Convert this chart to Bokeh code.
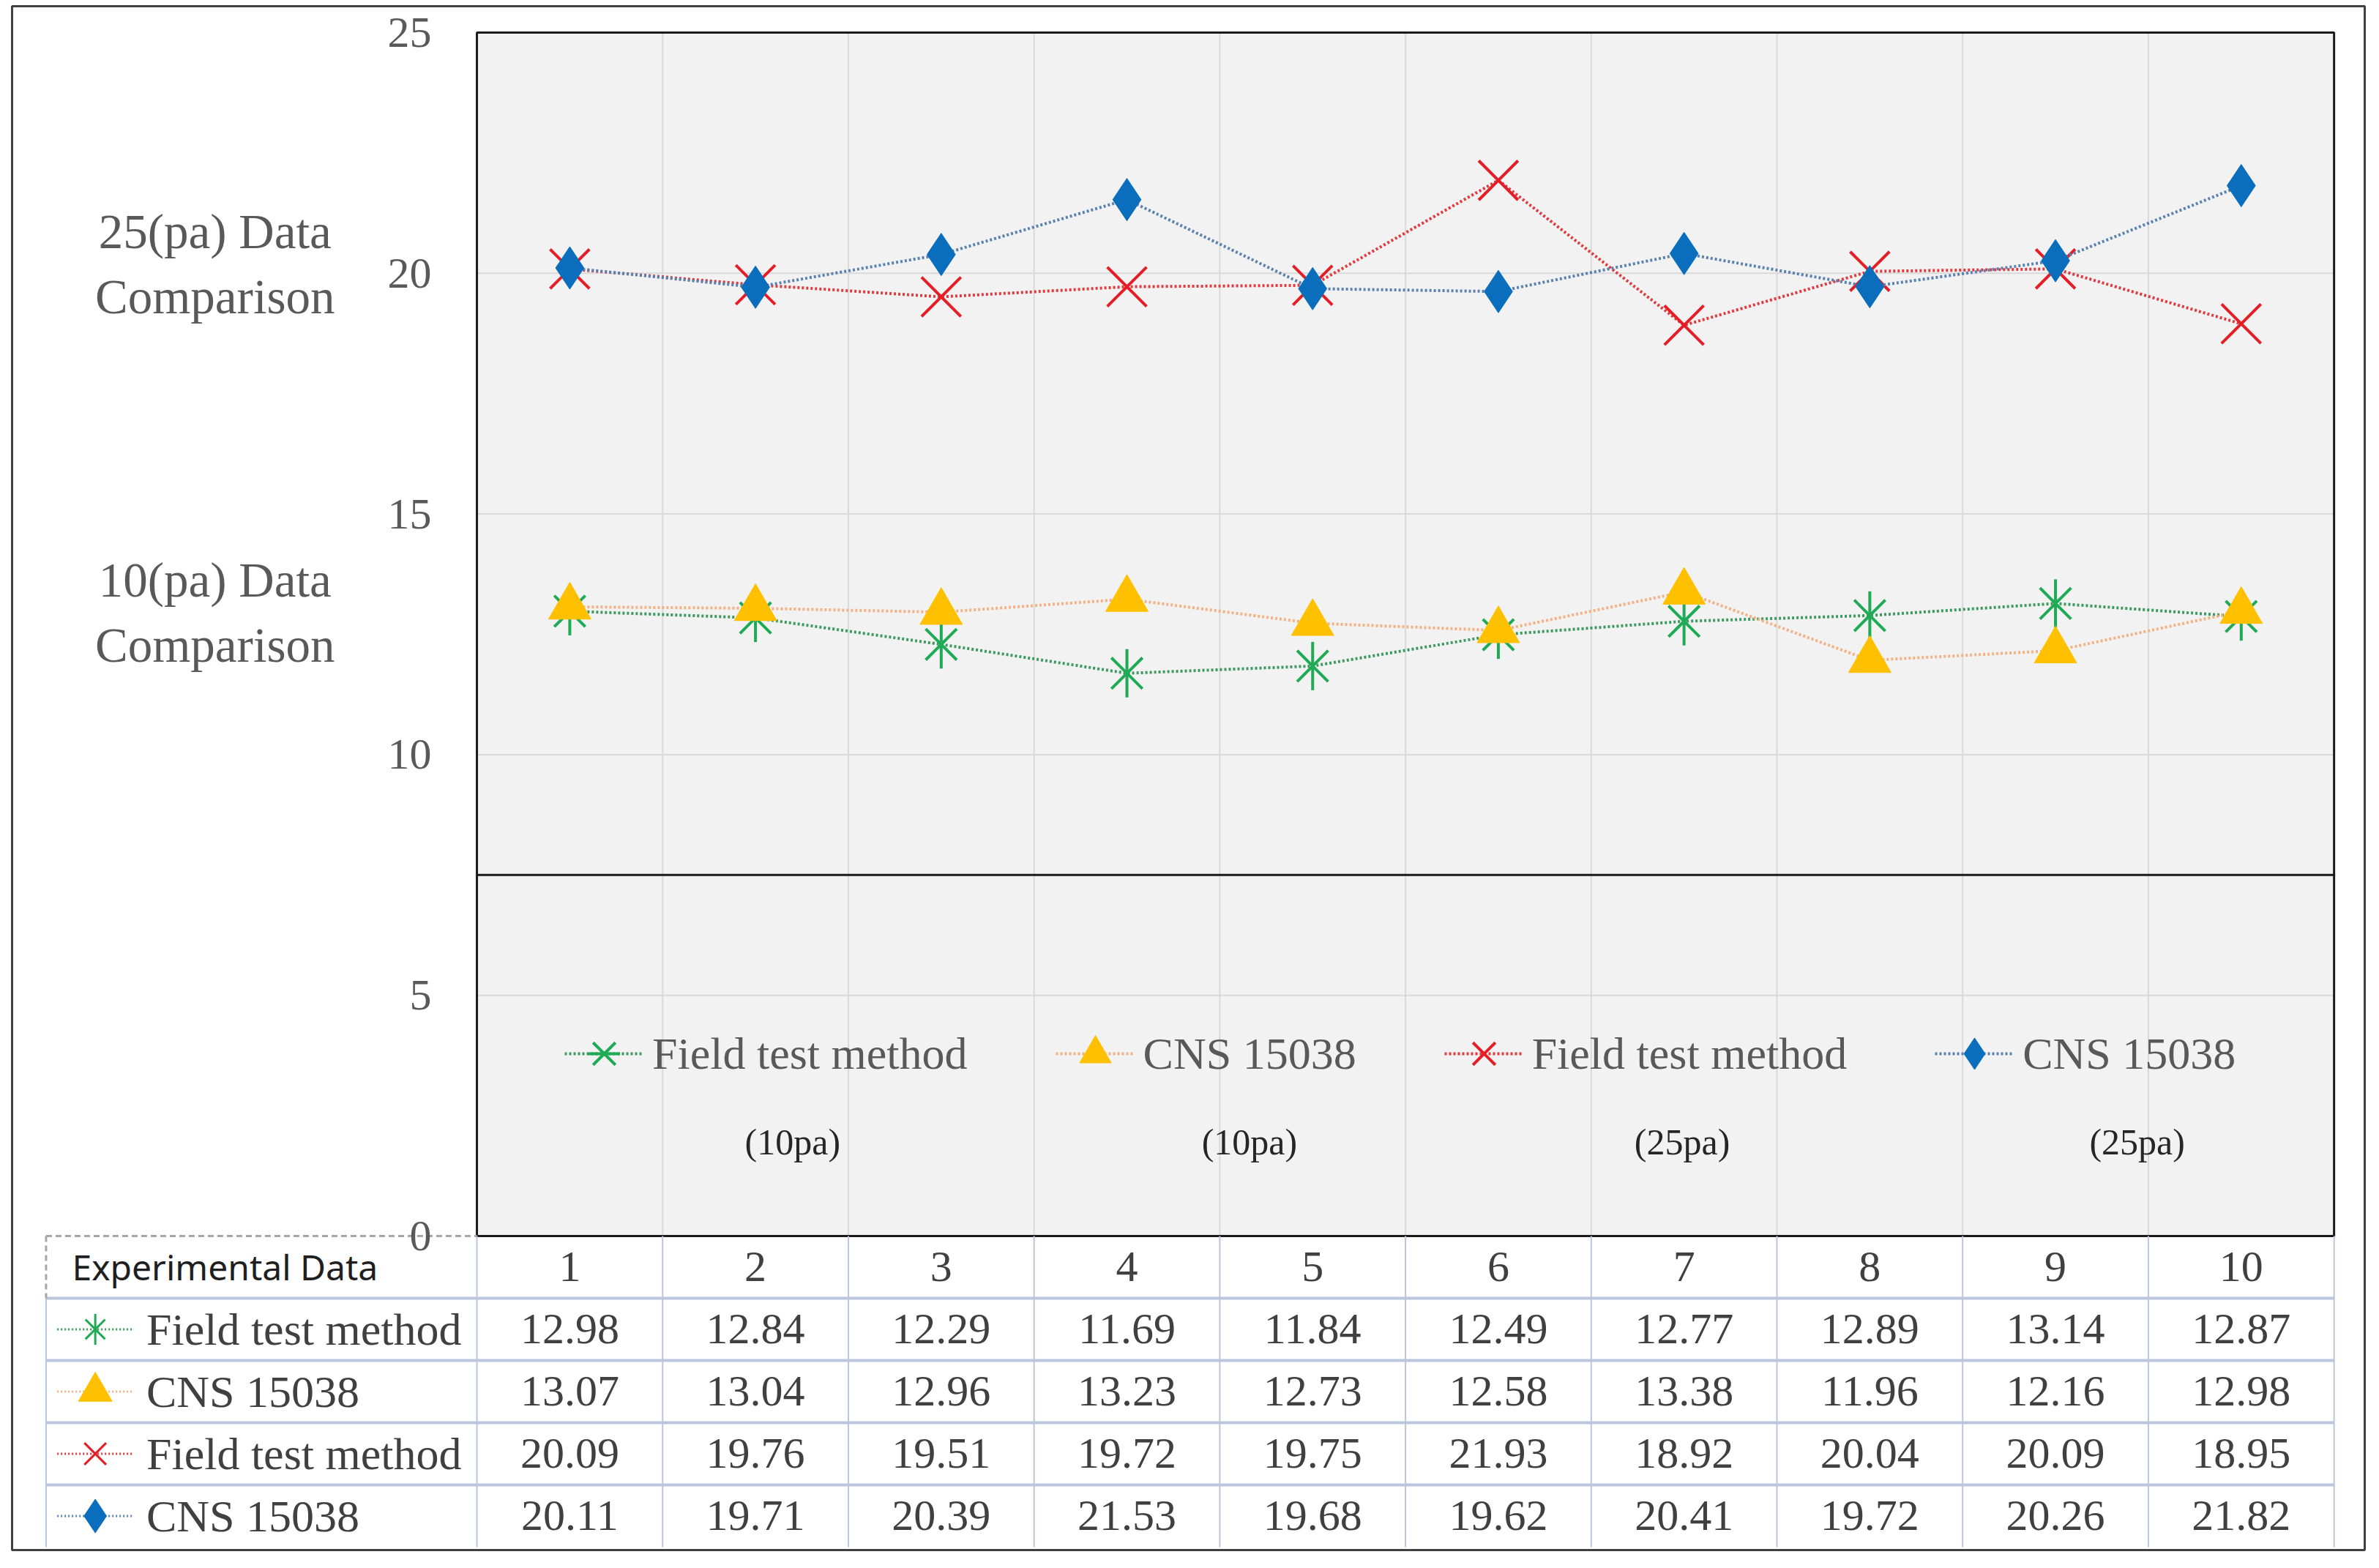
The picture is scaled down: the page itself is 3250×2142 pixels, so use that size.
import math
from bokeh.plotting import figure
from bokeh.models import Range1d, LinearAxis, FixedTicker, Legend, LegendItem
from bokeh.embed import file_html
from bokeh.resources import INLINE
from bokeh.core.properties import value

# ---------------- data ----------------
experiments = [1, 2, 3, 4, 5, 6, 7, 8, 9, 10]
field_10pa = [12.98, 12.84, 12.29, 11.69, 11.84, 12.49, 12.77, 12.89, 13.14, 12.87]
cns_10pa = [13.07, 13.04, 12.96, 13.23, 12.73, 12.58, 13.38, 11.96, 12.16, 12.98]
field_25pa = [20.09, 19.76, 19.51, 19.72, 19.75, 21.93, 18.92, 20.04, 20.09, 18.95]
cns_25pa = [20.11, 19.71, 20.39, 21.53, 19.68, 19.62, 20.41, 19.72, 20.26, 21.82]
series_names = ["Field test method", "CNS 15038", "Field test method", "CNS 15038"]
series_pressure = ["(10pa)", "(10pa)", "(25pa)", "(25pa)"]
y_ticks = [0, 5, 10, 15, 20, 25]
table_header = "Experimental Data"
side_labels = ["25(pa) Data\nComparison", "10(pa) Data\nComparison"]

# ---------------- styles / layout ----------------
SERIF = "Liberation Serif"
GREEN_LINE, GREEN = "#3C9A5F", "#1FAA55"
ORANGE_LINE, ORANGE = "#F4B183", "#FFC000"
RED_LINE, RED = "#E0393E", "#E41E26"
BLUE_LINE, BLUE = "#5A82B0", "#0A6EBD"
GRID = "#D9D9D9"
TABLE_LINE = "#B9C6DD"
TEXT_GRAY = "#595959"
TEXT_DARK = "#404040"

X_START, X_END = -2.003, 10.665
Y_START, Y_END = -6.524, 25.547
LEGEND_TOP = 7.5
SIDE_LABEL_X = -0.91
SIDE_LABEL_Y = [20.2, 12.95]
SUB_LABEL_X = [2.2, 4.66, 6.99, 9.44]
SUB_LABEL_Y = 1.95
TABLE_LEFT = -1.82
ROW_H = 1.2926
HEADER_TEXT_X = -1.68
ROW_LABEL_X = -1.28
KEY_X0, KEY_XC, KEY_X1 = -1.76, -1.555, -1.35

p = figure(width=3234, height=2122,
           x_range=Range1d(X_START, X_END), y_range=Range1d(Y_START, Y_END),
           x_axis_location=None, y_axis_location=None,
           toolbar_location=None, output_backend="svg",
           min_border_left=16, min_border_right=4, min_border_top=8, min_border_bottom=5)
p.grid.visible = False
p.background_fill_color = "white"
p.border_fill_color = "white"
p.outline_line_color = "#404040"
p.outline_line_width = 3

plot_left = experiments[0] - 0.5
plot_right = experiments[-1] + 0.5
y_lo, y_hi = y_ticks[0], y_ticks[-1]

# plot area background
p.quad(left=[plot_left], right=[plot_right], bottom=[y_lo], top=[y_hi],
       fill_color="#F2F2F2", line_color=None)

# gridlines (category boundaries and value ticks)
vx = [c + 0.5 for c in experiments[:-1]]
p.segment(x0=vx, y0=[y_lo] * len(vx), x1=vx, y1=[y_hi] * len(vx),
          line_color=GRID, line_width=2)
hy = y_ticks[1:-1]
p.segment(x0=[plot_left] * len(hy), y0=hy, x1=[plot_right] * len(hy), y1=hy,
          line_color=GRID, line_width=2)

# legend box top line and plot border
p.segment(x0=[plot_left], y0=[LEGEND_TOP], x1=[plot_right], y1=[LEGEND_TOP],
          line_color="#1A1A1A", line_width=3)
p.quad(left=[plot_left], right=[plot_right], bottom=[y_lo], top=[y_hi],
       fill_color=None, line_color="#1A1A1A", line_width=3)

DASH = "3 3"
# series 1: field test method (10pa)
l1 = p.line(experiments, field_10pa, line_color=GREEN_LINE, line_width=4, line_dash=DASH)
m1a = p.scatter(experiments, field_10pa, marker="x", size=60, line_color=GREEN, line_width=4)
m1b = p.scatter(experiments, field_10pa, marker="dash", size=66, angle=math.pi / 2,
                line_color=GREEN, line_width=4)
# series 2: CNS 15038 (10pa)
l2 = p.line(experiments, cns_10pa, line_color=ORANGE_LINE, line_width=4, line_dash=DASH)
m2 = p.scatter(experiments, cns_10pa, marker="triangle", size=58,
               fill_color=ORANGE, line_color=ORANGE)
# series 3: field test method (25pa)
l3 = p.line(experiments, field_25pa, line_color=RED_LINE, line_width=4, line_dash=DASH)
m3 = p.scatter(experiments, field_25pa, marker="x", size=76, line_color=RED, line_width=4)
# series 4: CNS 15038 (25pa)
l4 = p.line(experiments, cns_25pa, line_color=BLUE_LINE, line_width=4, line_dash=DASH)
m4 = p.scatter(experiments, cns_25pa, marker="diamond", size=58,
               fill_color=BLUE, line_color=BLUE)

# y axis at the plot-area edge
yaxis = LinearAxis(fixed_location=plot_left, ticker=FixedTicker(ticks=y_ticks),
                   axis_line_color=None, major_tick_line_color=None,
                   minor_tick_line_color=None, major_label_standoff=56,
                   major_label_text_font=SERIF, major_label_text_font_size="60px",
                   major_label_text_color=TEXT_GRAY)
p.add_layout(yaxis, "left")

# side labels
p.text(x=[SIDE_LABEL_X] * 2, y=SIDE_LABEL_Y, text=side_labels,
       text_font=value(SERIF), text_font_size="67px", text_color=TEXT_GRAY,
       text_align="center", text_baseline="middle", text_line_height=1.2)

# legend
legend = Legend(
    items=[LegendItem(label=value(series_names[0]), renderers=[l1, m1a, m1b]),
           LegendItem(label=value(series_names[1]), renderers=[l2, m2]),
           LegendItem(label=value(series_names[2]), renderers=[l3, m3]),
           LegendItem(label=value(series_names[3]), renderers=[l4, m4])],
    orientation="horizontal", location=(755, 623),
    glyph_width=108, glyph_height=110, label_standoff=12, spacing=120,
    padding=0, margin=0, border_line_color=None, background_fill_alpha=0,
    label_text_font=SERIF, label_text_font_size="62px", label_text_color=TEXT_GRAY,
    label_text_baseline="middle")
p.add_layout(legend)

p.text(x=SUB_LABEL_X, y=[SUB_LABEL_Y] * len(SUB_LABEL_X), text=series_pressure,
       text_font=value(SERIF), text_font_size="50px", text_color="#262626",
       text_align="center", text_baseline="middle")

# ---------------- data table ----------------
n_rows = 5
row_bounds = [-ROW_H * k for k in range(n_rows + 1)]
row_centers = [-(k + 0.5) * ROW_H for k in range(n_rows)]

# horizontal separators
sep = row_bounds[1:n_rows]
p.segment(x0=[TABLE_LEFT] * len(sep), y0=sep, x1=[plot_right] * len(sep), y1=sep,
          line_color=TABLE_LINE, line_width=4)
# vertical column lines
cx = [plot_left] + [c + 0.5 for c in experiments]
p.segment(x0=cx, y0=[row_bounds[0]] * len(cx), x1=cx, y1=[row_bounds[-1]] * len(cx),
          line_color=TABLE_LINE, line_width=2)
p.segment(x0=[TABLE_LEFT], y0=[row_bounds[1]], x1=[TABLE_LEFT], y1=[row_bounds[-1]],
          line_color=TABLE_LINE, line_width=2)
# dashed header cell border
p.segment(x0=[TABLE_LEFT, TABLE_LEFT], y0=[row_bounds[0], row_bounds[0]],
          x1=[plot_left, TABLE_LEFT], y1=[row_bounds[0], row_bounds[1]],
          line_color="#A6A6A6", line_width=3, line_dash="8 5")

# header row
p.text(x=[HEADER_TEXT_X], y=[row_centers[0]], text=[table_header],
       text_font=value("Noto Sans"), text_font_size="48px", text_color="#1F1F1F",
       text_align="left", text_baseline="middle")
p.text(x=experiments, y=[row_centers[0]] * len(experiments),
       text=[str(c) for c in experiments],
       text_font=value(SERIF), text_font_size="60px", text_color=TEXT_DARK,
       text_align="center", text_baseline="middle")

# row labels, keys and values
all_series = [field_10pa, cns_10pa, field_25pa, cns_25pa]
line_colors = [GREEN_LINE, ORANGE_LINE, RED_LINE, BLUE_LINE]
key_y = row_centers[1:]
p.segment(x0=[KEY_X0] * 4, y0=key_y, x1=[KEY_X1] * 4, y1=key_y,
          line_color=line_colors, line_width=3, line_dash="2 3")
p.scatter([KEY_XC], [key_y[0]], marker="x", size=38, line_color=GREEN, line_width=3)
p.scatter([KEY_XC], [key_y[0]], marker="dash", size=42, angle=math.pi / 2,
          line_color=GREEN, line_width=3)
p.scatter([KEY_XC], [key_y[1]], marker="triangle", size=46, fill_color=ORANGE, line_color=ORANGE)
p.scatter([KEY_XC], [key_y[2]], marker="x", size=42, line_color=RED, line_width=3)
p.scatter([KEY_XC], [key_y[3]], marker="diamond", size=46, fill_color=BLUE, line_color=BLUE)

p.text(x=[ROW_LABEL_X] * 4, y=key_y, text=series_names,
       text_font=value(SERIF), text_font_size="62px", text_color=TEXT_DARK,
       text_align="left", text_baseline="middle")
for vals, yc in zip(all_series, key_y):
    p.text(x=experiments, y=[yc] * len(vals), text=[f"{v:.2f}" for v in vals],
           text_font=value(SERIF), text_font_size="60px", text_color=TEXT_DARK,
           text_align="center", text_baseline="middle")

open("out.html", "w").write(file_html(p, INLINE))
